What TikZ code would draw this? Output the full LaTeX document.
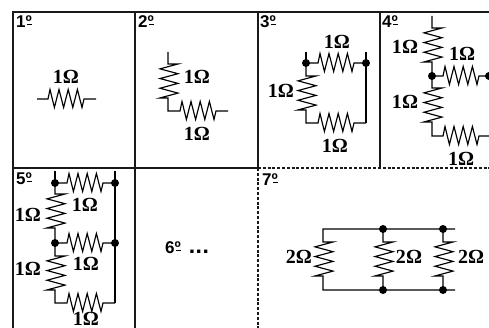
\documentclass[tikz,border=0pt]{standalone}
\usepackage{fontspec}
\setmainfont{Liberation Serif}
\newfontfamily\lblfont{Liberation Sans}
\def\hz{-- ++(2,-9.5) -- ++(4.4,18) -- ++(4.6,-18) -- ++(4.6,18) -- ++(4.6,-18) -- ++(4.6,18) -- ++(4.6,-18) -- ++(4.6,18) -- ++(2,-8.5)}
\def\vz{-- ++(10,0) -- ++(-18,4.85) -- ++(18,4.85) -- ++(-18,4.85) -- ++(18,4.85) -- ++(-18,4.85) -- ++(18,4.85) -- ++(-18,4.85) -- ++(8,0)}
\def\ordmark{º\llap{\rule[3pt]{5pt}{1.2pt}}}
\tikzset{
  grid/.style={line width=1.5pt,draw=black!90},
  griddash/.style={grid,dash pattern=on 3pt off 1.8pt},
  wire/.style={line width=1.15pt,draw=black,line join=miter},
  dot/.style={circle,fill=black,inner sep=0pt,minimum size=8pt},
  ohm/.style={inner sep=0pt,font=\fontsize{20}{20}\selectfont\bfseries},
  tag/.style={inner sep=0pt,anchor=base west,font=\lblfont\fontsize{17}{17}\selectfont\bfseries}
}
\begin{document}
\begin{tikzpicture}[x=1pt,y=-1pt]
\useasboundingbox (0,0) rectangle (489,328);
\fill[white] (0,0) rectangle (489,328);
\begin{scope}
\clip (0,0) rectangle (489,328);
% frame
\draw[grid] (13,328) -- (13,12) -- (489,12);
\draw[grid] (135,12) -- (135,328);
\draw[grid] (258,12) -- (258,168);
\draw[grid] (380,12) -- (380,168);
\draw[grid] (13,168) -- (258,168);
\draw[griddash] (258,168) -- (489,168);
\draw[griddash] (258,168) -- (258,328);
% tags
\node[tag] (t1) at (16,28) {1\ordmark};
\node[tag] (t2) at (138,28) {2\ordmark};
\node[tag] (t3) at (260,28) {3\ordmark};
\node[tag] (t4) at (382,28) {4\ordmark};
\node[tag] (t5) at (16,185) {5\ordmark};
\node[tag] (t6) at (165,254) {6\ordmark\kern8pt{\fontsize{23}{23}\selectfont.\kern.5pt.\kern.5pt.}};
\node[tag] (t7) at (262,186) {7\ordmark};
% panel 1
\draw[wire] (37,99) -- (48,99) \hz -- (96,99);
\node[ohm] (l1) at (66,77) {1Ω};
% panel 2
\draw[wire] (168,52) -- (168,64) \vz |- (180,111) \hz -- (228,111);
\node[ohm] (l2a) at (197,77) {1Ω};
\node[ohm] (l2b) at (197,134) {1Ω};
% panel 3
\node[dot] (a3) at (306,63) {};
\node[dot] (b3) at (366,63) {};
\coordinate (c3) at (306,123);
\coordinate (d3) at (366,123);
\draw[wire] (306,52) -- (a3.center);
\draw[wire] (366,52) -- (b3.center) -- (d3);
\draw[wire] (a3.center) -- (318,63) \hz -- (b3.center);
\draw[wire] (a3.center) -- (306,76) \vz -- (c3) -- (318,123) \hz -- (d3);
\node[ohm] (l3a) at (337,42) {1Ω};
\node[ohm] (l3b) at (281,91) {1Ω};
\node[ohm] (l3c) at (335,146) {1Ω};
% panel 4
\node[dot] (a4) at (432,76) {};
\node[dot] (b4) at (489,76) {};
\draw[wire] (432,16) -- (432,28) \vz -- (a4.center);
\draw[wire] (a4.center) -- (443,76) \hz -- (b4.center);
\draw[wire] (a4.center) -- (432,88) \vz |- (443,136) \hz -- (489,136);
\node[ohm] (l4a) at (405,47) {1Ω};
\node[ohm] (l4b) at (462,54) {1Ω};
\node[ohm] (l4c) at (405,102) {1Ω};
\node[ohm] (l4d) at (461,159) {1Ω};
% panel 5
\node[dot] (a5) at (55,183) {};
\node[dot] (b5) at (115,183) {};
\node[dot] (c5) at (55,243) {};
\node[dot] (d5) at (115,243) {};
\coordinate (e5) at (115,303);
\draw[wire] (55,171) -- (a5.center);
\draw[wire] (115,171) -- (b5.center) -- (d5.center) -- (e5);
\draw[wire] (a5.center) -- (67,183) \hz -- (b5.center);
\draw[wire] (a5.center) -- (55,194) \vz -- (c5.center);
\draw[wire] (c5.center) -- (67,243) \hz -- (d5.center);
\draw[wire] (c5.center) -- (55,256) \vz |- (67,303) \hz -- (e5);
\node[ohm] (l5a) at (85,205) {1Ω};
\node[ohm] (l5b) at (28,215) {1Ω};
\node[ohm] (l5c) at (86,264) {1Ω};
\node[ohm] (l5d) at (28,269) {1Ω};
\node[ohm] (l5e) at (86,319) {1Ω};
% panel 7
\node[dot] (a7) at (383,229) {};
\node[dot] (b7) at (443,229) {};
\node[dot] (c7) at (383,290) {};
\node[dot] (d7) at (443,290) {};
\coordinate (e7) at (323,229);
\coordinate (f7) at (323,290);
\coordinate (g7) at (455,229);
\coordinate (h7) at (455,290);
\draw[wire] (g7) -- (e7) -- (323,242) \vz -- (f7) -- (h7);
\draw[wire] (a7.center) -- (383,242) \vz -- (c7.center);
\draw[wire] (b7.center) -- (443,242) \vz -- (d7.center);
\node[ohm] (l7a) at (299,257) {2Ω};
\node[ohm] (l7b) at (409,257) {2Ω};
\node[ohm] (l7c) at (471,257) {2Ω};
\end{scope}
\end{tikzpicture}
\end{document}
